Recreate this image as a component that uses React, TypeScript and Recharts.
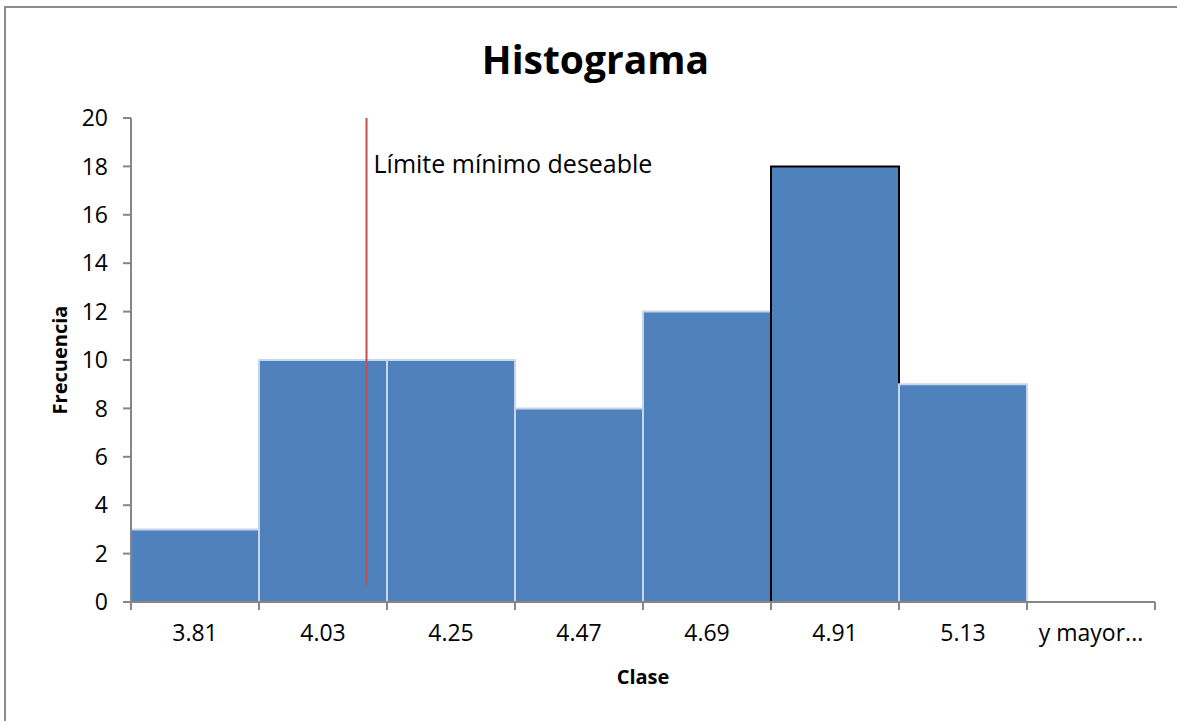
import React from 'react';
import { Bar, BarChart, Cell, Label, ReferenceLine, XAxis, YAxis } from 'recharts';

// histogram bins (upper limits) and their counts
const CLASES = ['3.81', '4.03', '4.25', '4.47', '4.69', '4.91', '5.13', 'y mayor...'];
const FRECUENCIAS = [3, 10, 10, 8, 12, 18, 9, 0];
const Y_TICKS = [0, 2, 4, 6, 8, 10, 12, 14, 16, 18, 20];
const EDGE_TICKS = [0, 1, 2, 3, 4, 5, 6, 7, 8];

// position of the lower spec limit, in bin units from the left edge
const LIMITE_MINIMO = 1.84;
const LIMITE_Y = [0.7, 20];
const MODAL_BIN = '4.91';

const FONT = '"Open Sans", Lato, sans-serif';
const AXIS_GREY = '#868686';
const FRAME_GREY = '#8c8c8c';
const BAR_BLUE = '#4f81bd';

// axis ids: the edge axis must sit right on the plot, the class labels below it
const EJE_BORDES = 'a-bordes';
const EJE_CLASES = 'b-clases';

// each bin also gets its centre on a continuous 0..8 scale, used for edge ticks and the limit line
const data = CLASES.map((clase, i) => ({ clase, centro: i + 0.5, frecuencia: FRECUENCIAS[i] }));

function LimitLabel(props: any) {
  const { viewBox } = props;
  return (
    <text x={viewBox.x + 7} y={viewBox.y + 55} fontFamily={FONT} fontSize={25} fill="#000">
      Límite mínimo deseable
    </text>
  );
}

export default function App() {
  return (
    <div
      style={{
        position: 'fixed',
        left: 0,
        top: 0,
        width: 1177,
        height: 721,
        background: '#fff',
        overflow: 'hidden',
        fontFamily: FONT,
      }}
    >
      {/* frame: only the top and left edges fall inside the picture */}
      <div style={{ position: 'absolute', left: 4, top: 6, width: 1173, height: 2, background: FRAME_GREY }} />
      <div style={{ position: 'absolute', left: 4, top: 6, width: 2, height: 715, background: FRAME_GREY }} />
      <div
        style={{
          position: 'absolute',
          left: 0,
          top: 33,
          width: 1191,
          textAlign: 'center',
          fontSize: 39,
          fontWeight: 700,
          lineHeight: '52px',
        }}
      >
        Histograma
      </div>
      <div style={{ position: 'absolute', left: 0, top: 0 }}>
        <BarChart
          width={1177}
          height={721}
          data={data}
          barCategoryGap={0}
          margin={{ top: 118, right: 22, bottom: 32, left: 31 }}
        >
          <XAxis
            xAxisId={EJE_BORDES}
            dataKey="centro"
            type="number"
            domain={[0, 8]}
            allowDataOverflow
            ticks={EDGE_TICKS}
            interval={0}
            tickFormatter={() => ''}
            tickSize={8}
            height={1}
            axisLine={{ stroke: AXIS_GREY, strokeWidth: 2 }}
            tickLine={{ stroke: AXIS_GREY, strokeWidth: 2 }}
          />
          <XAxis
            xAxisId={EJE_CLASES}
            dataKey="clase"
            axisLine={false}
            tickLine={false}
            tickSize={0}
            tickMargin={22}
            height={86}
            tick={{ fill: '#000', fontSize: 23, fontFamily: FONT }}
          >
            <Label
              value="Clase"
              position="insideBottom"
              offset={5}
              style={{ fill: '#000', fontSize: 20, fontWeight: 700, fontFamily: FONT }}
            />
          </XAxis>
          <YAxis
            domain={[0, 20]}
            ticks={Y_TICKS}
            interval={0}
            width={100}
            tickSize={8}
            tickMargin={15}
            axisLine={{ stroke: AXIS_GREY, strokeWidth: 2 }}
            tickLine={{ stroke: AXIS_GREY, strokeWidth: 2 }}
            tick={{ fill: '#000', fontSize: 23, fontFamily: FONT }}
          >
            <Label
              value="Frecuencia"
              angle={-90}
              position="insideLeft"
              offset={29}
              style={{ fill: '#000', fontSize: 20, fontWeight: 700, fontFamily: FONT, textAnchor: 'middle' }}
            />
          </YAxis>
          <Bar
            xAxisId={EJE_CLASES}
            dataKey="frecuencia"
            fill={BAR_BLUE}
            stroke="#c6d6ea"
            strokeWidth={2}
            isAnimationActive={false}
          >
            {data.map((d) => (
              <Cell key={d.clase} stroke={d.clase === MODAL_BIN ? '#000' : '#c6d6ea'} />
            ))}
          </Bar>
          <ReferenceLine
            xAxisId={EJE_BORDES}
            segment={[
              { x: LIMITE_MINIMO, y: LIMITE_Y[0] },
              { x: LIMITE_MINIMO, y: LIMITE_Y[1] },
            ]}
            stroke="#c0504d"
            strokeWidth={2}
            label={<LimitLabel />}
          />
        </BarChart>
      </div>
    </div>
  );
}
